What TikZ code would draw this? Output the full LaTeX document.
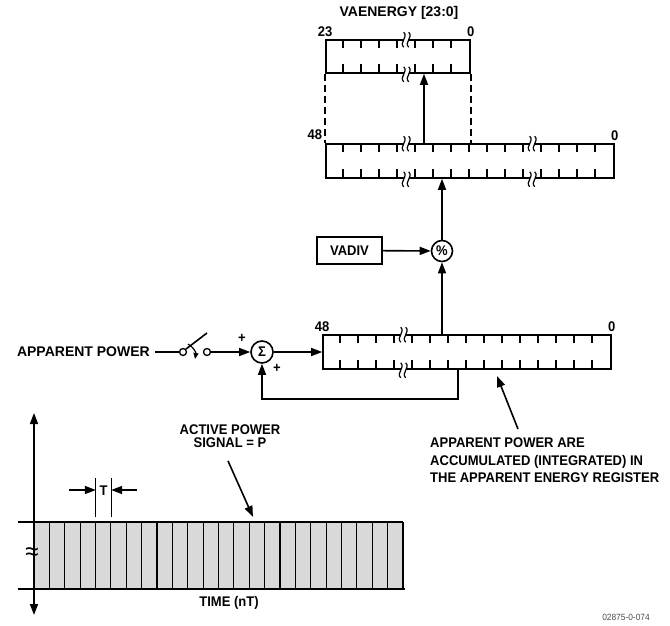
\documentclass[tikz,border=0pt]{standalone}
\usepackage{fontspec}
\setmainfont{Liberation Sans}[FakeStretch=0.93]
\newfontfamily\plainsans{Liberation Sans}
\usetikzlibrary{arrows.meta,positioning,calc}

\tikzset{
  wire/.style={line width=1.6pt},
  arr/.style={wire,-{Triangle[length=11pt,width=8pt]}},
  regbox/.style={draw,line width=1.6pt,minimum height=34pt,inner sep=0pt},
  opnode/.style={draw,circle,line width=1.6pt,minimum size=21pt,inner sep=0pt,
    font=\bfseries\fontsize{14}{16}\selectfont},
  lbl/.style={font=\bfseries\fontsize{14}{17.5}\selectfont,inner sep=1pt},
  contact/.style={draw,circle,line width=1.3pt,minimum size=7pt,inner sep=0pt},
  brk/.pic={
    \fill[white] (-2.5,-7) rectangle (2.5,7);
    \foreach \d in {-2.5,2.5}
      \draw[line width=1.2pt] (\d,-7) .. controls (\d+5,-2) and (\d-5,3) .. (\d,8);
  }
}

\begin{document}
\begin{tikzpicture}[x=1pt,y=-1pt]
  \useasboundingbox (0,0) rectangle (670,625);

  % registers
  \node[regbox,minimum width=144pt,minimum height=33pt] (vaen) at (398,56.5) {};
  \node[regbox,minimum width=288pt] (acc) at (470,161) {};
  \node[regbox,minimum width=288pt] (reg) at (467,352) {};
  \foreach \rg/\cnt in {vaen/7,acc/15,reg/15}
    \foreach \i in {1,...,\cnt} {
      \draw[wire] ([xshift=\i*18pt]\rg.north west) -- ++(0,9);
      \draw[wire] ([xshift=\i*18pt]\rg.south west) -- ++(0,-10);
    }
  \foreach \rg/\dx in {vaen/81,acc/81,acc/207,reg/81} {
    \pic at ([xshift=\dx pt]\rg.north west) {brk};
    \pic at ([xshift=\dx pt]\rg.south west) {brk};
  }

  \node[lbl,font=\plainsans\bfseries\fontsize{14}{16}\selectfont] (vaname) at (399,13) {VAENERGY [23:0]};
  \node[lbl,above=1pt of vaen.north west] {23};
  \node[lbl,above=1pt of vaen.north east] {0};
  \node[lbl,anchor=south east] at ([xshift=-2pt,yshift=2pt]acc.north west) {48};
  \node[lbl,above=1pt of acc.north east] {0};
  \node[lbl,above=1pt of reg.north west] {48};
  \node[lbl,above=1pt of reg.north east] {0};

  \draw[wire,dash pattern=on 7pt off 4pt] (vaen.south west) -- (vaen.south west |- acc.north);
  \draw[wire,dash pattern=on 7pt off 4pt] (vaen.south east) -- (vaen.south east |- acc.north);
  \draw[arr] ([xshift=-46pt]acc.north) -- ([xshift=-46pt]acc.north |- vaen.south);

  % divider
  \node[opnode] (div) at (442,251) {\%};
  \node[draw,lbl,line width=1.6pt,minimum width=65pt,minimum height=27pt] (vadiv) at (349.5,250.5) {VADIV};
  \draw[arr] (vadiv) -- (div);
  \draw[arr] (div) -- (div |- acc.south);
  \draw[arr] (div |- reg.north) -- (div);

  % accumulator input
  \node[opnode,minimum size=22pt] (sum) at (262,352) {Σ};
  \draw[arr] (sum) -- (reg.west);
  \draw[arr] ([xshift=-9pt]reg.south) -- ++(0,29) -| (sum);
  \node[lbl] at (242,338) {+};
  \node[lbl] at (277,368) {+};

  \node[lbl,anchor=east,inner xsep=5pt,font=\plainsans\bfseries\fontsize{14}{16}\selectfont] (inp) at (155,352) {APPARENT POWER};
  \node[contact] (c1) at (183,352) {};
  \node[contact] (c2) at (207,352) {};
  \coordinate (blade) at (207,333);
  \draw[wire] (inp) -- (c1);
  \draw[wire] (c1.north east) -- (blade);
  \draw[line width=1.2pt,-{Triangle[length=6pt,width=5pt]}] (188,344) to[bend left=35] (195,359);
  \draw[arr] (c2) -- (sum);

  \node[lbl,anchor=north west,align=left] (ann) at (429,437)
    {APPARENT POWER ARE\\ACCUMULATED (INTEGRATED) IN\\THE APPARENT ENERGY REGISTER};
  \coordinate (anntip) at (497,376);
  \draw[arr] ([shift={(89,-8)}]ann.north west) -- (anntip);

  % signal
  \fill[black!15] (34,522) rectangle (403,589);
  \foreach \i in {0,...,24}
    \draw[line width=1.1pt] ({34+\i*15.375},522) -- ++(0,67);
  \draw[wire] (18,522) -- (403,522);
  \draw[wire] (18,589) -- (405,589);
  \draw[wire,{Triangle[length=11pt,width=8pt]}-{Triangle[length=11pt,width=8pt]}] (34,413) -- (34,615);
  \node[font=\fontsize{26}{26}\selectfont,inner sep=0pt] at (32,554) {≈};

  \draw[line width=1.1pt] (95.8,478) -- (95.8,517);
  \draw[line width=1.1pt] (111.2,478) -- (111.2,517);
  \draw[arr] (69,490) -- (95.8,490);
  \draw[arr] (137,490) -- (111.2,490);
  \node[lbl] at (103.5,491) {T};

  \node[lbl,align=center,font=\bfseries\fontsize{14}{13.5}\selectfont] (apl) at (230,436) {ACTIVE POWER\\SIGNAL = P};
  \coordinate (sigtip) at (253,517);
  \draw[arr] ([xshift=-2pt,yshift=-12pt]apl.south) -- (sigtip);
  \node[lbl] (time) at (229,603) {TIME (nT)};
  \node[font=\fontsize{9}{10}\selectfont,text=black!70] at (626,617) {02875-0-074};
\end{tikzpicture}
\end{document}
